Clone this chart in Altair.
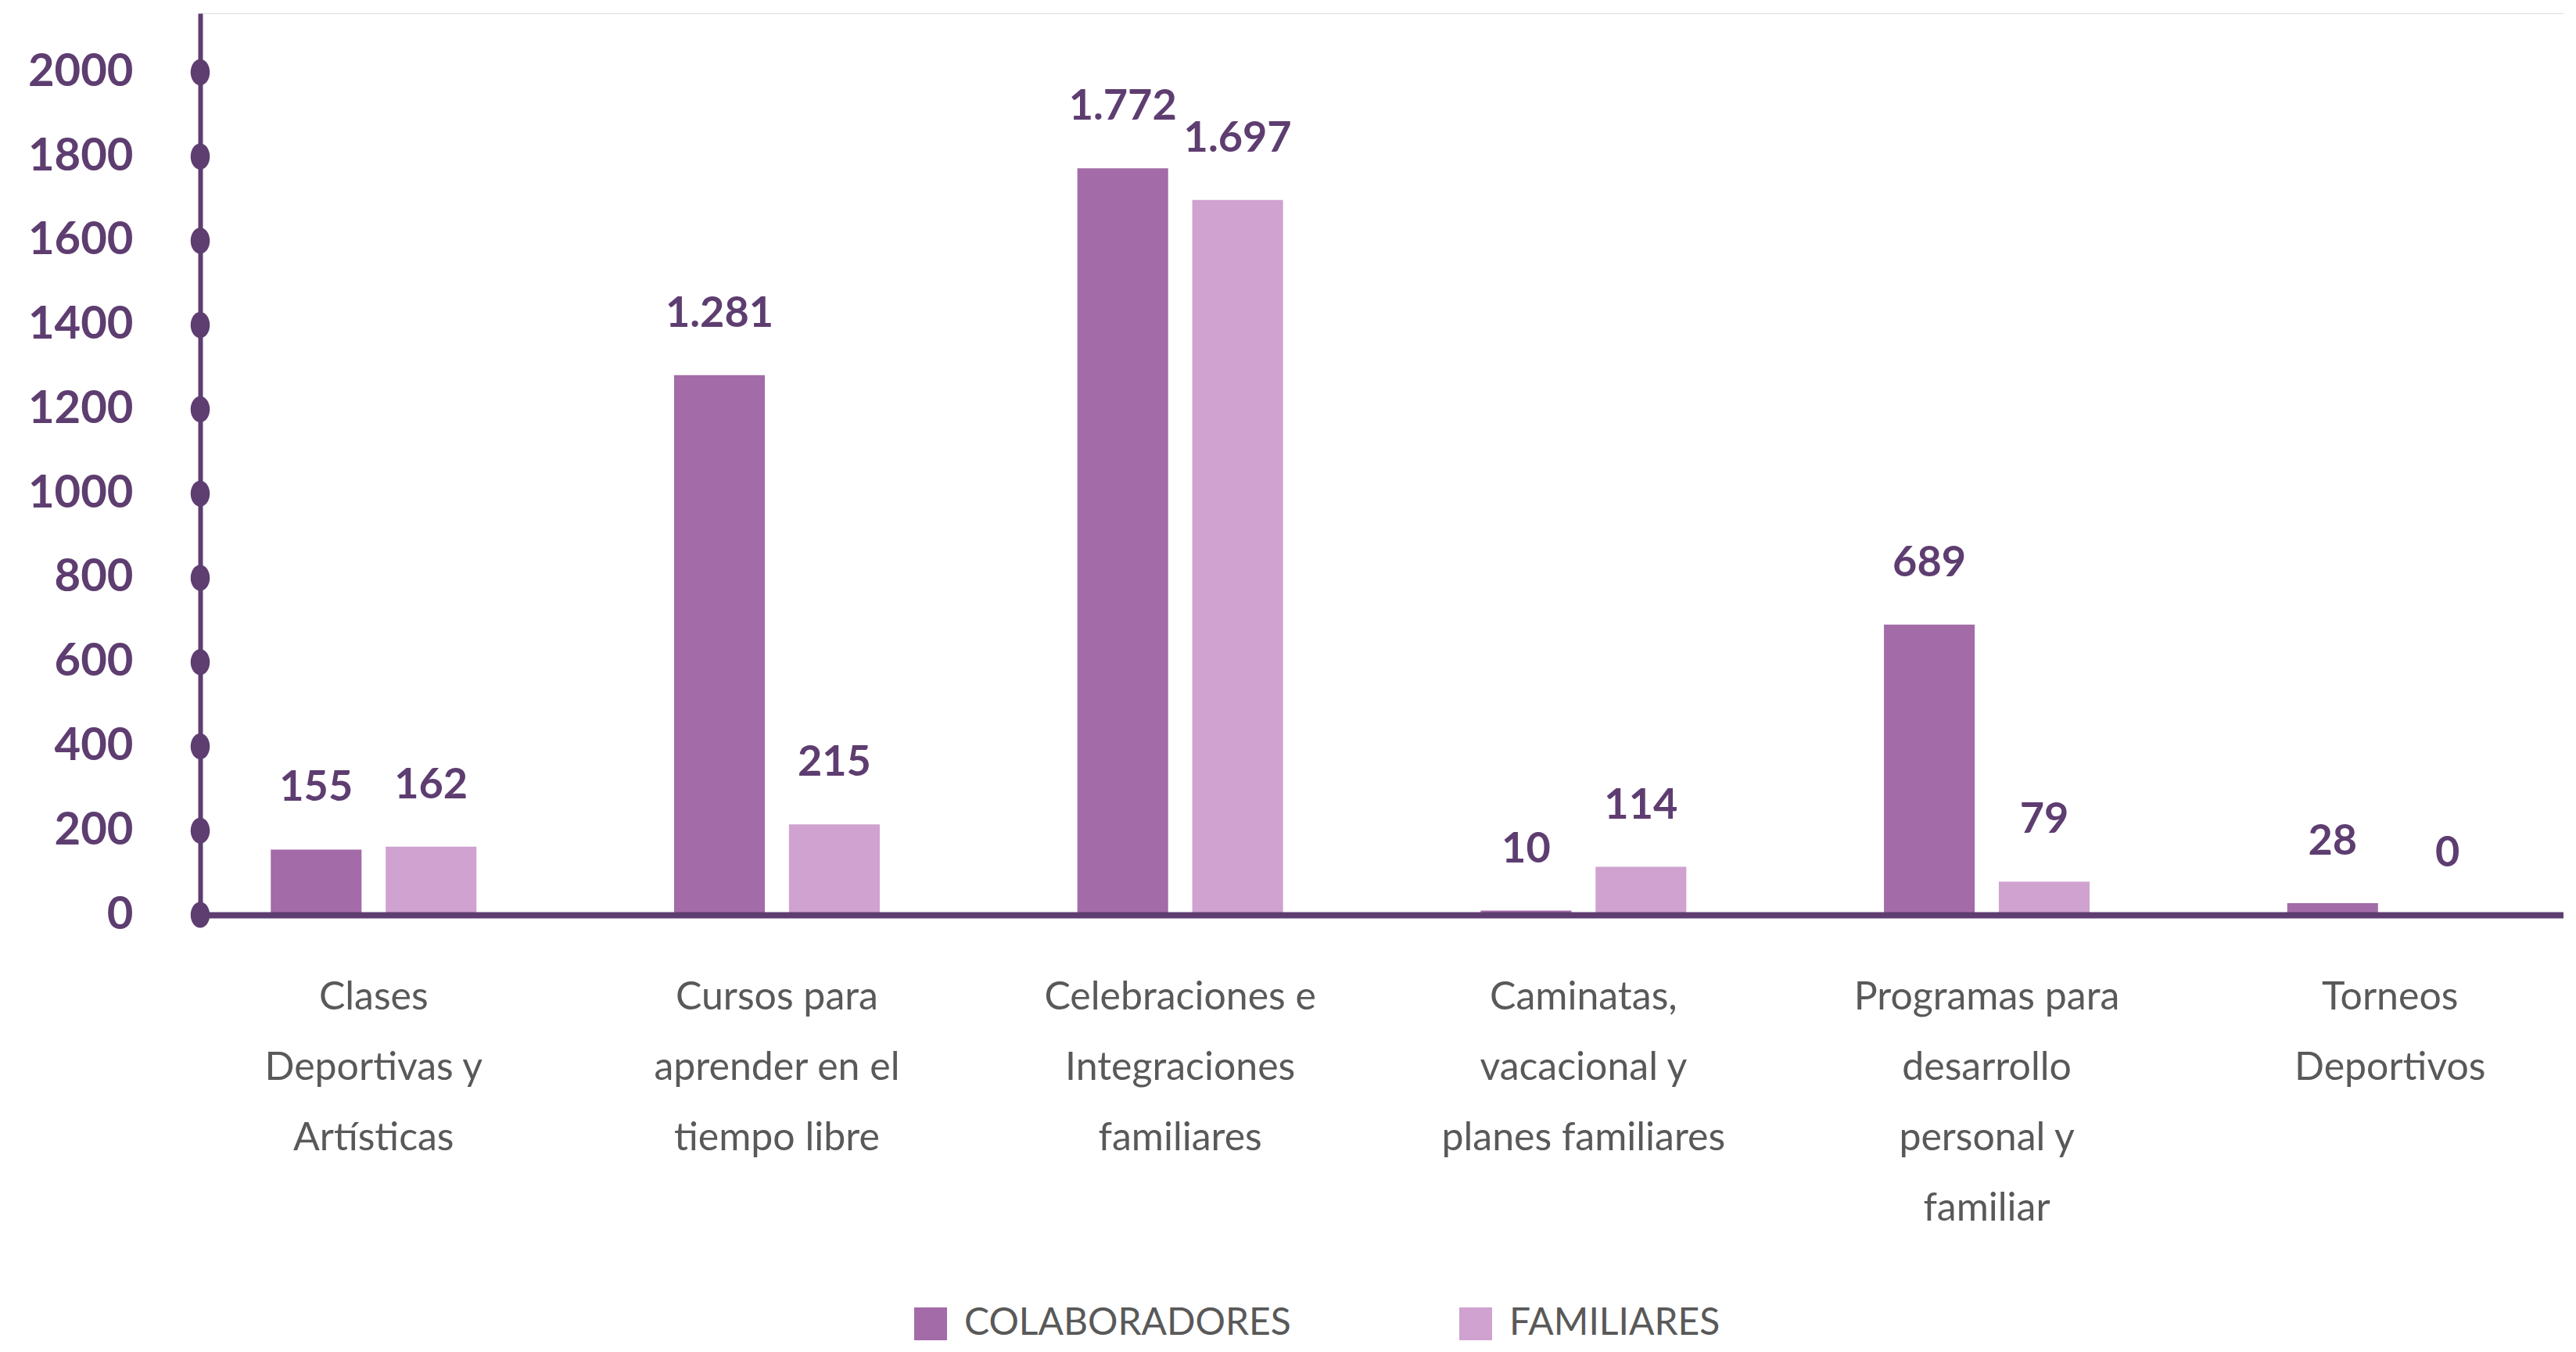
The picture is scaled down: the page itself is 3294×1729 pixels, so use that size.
import altair as alt
import pandas as pd

categories = [
    "Clases|Deportivas y|Artísticas",
    "Cursos para|aprender en el|tiempo libre",
    "Celebraciones e|Integraciones|familiares",
    "Caminatas,|vacacional y|planes familiares",
    "Programas para|desarrollo|personal y|familiar",
    "Torneos|Deportivos",
]
series = ["COLABORADORES", "FAMILIARES"]
colaboradores = [155, 1281, 1772, 10, 689, 28]
familiares = [162, 215, 1697, 114, 79, 0]
y_ticks = [0, 200, 400, 600, 800, 1000, 1200, 1400, 1600, 1800, 2000]

PURPLE = "#5E3D70"
GRAY_TXT = "#595959"
BAR_COLORS = ["#A36BA8", "#CFA2D0"]

rows = []
for c, a, b in zip(categories, colaboradores, familiares):
    for s, v in ((series[0], a), (series[1], b)):
        rows.append({"cat": c, "serie": s, "valor": v,
                     "label": f"{v:,}".replace(",", ".")})
df = pd.DataFrame(rows)

x_enc = alt.X(
    "cat:N", sort=categories,
    scale=alt.Scale(paddingInner=0.49, paddingOuter=0.175),
    axis=alt.Axis(title=None, labelExpr="split(datum.label, '|')", labelAngle=0,
                  labelFont="Lato", labelFontSize=50, labelColor=GRAY_TXT,
                  labelLineHeight=90, labelPadding=80, ticks=False,
                  domainColor=PURPLE, domainWidth=8, labelLimit=0, zindex=1),
)
x_off = alt.XOffset("serie:N", sort=series,
                    scale=alt.Scale(paddingInner=0.21, paddingOuter=0))
y_enc = alt.Y(
    "valor:Q",
    scale=alt.Scale(domain=[0, 2140], nice=False),
    axis=alt.Axis(values=y_ticks, format="d", title=None, grid=False, ticks=False,
                  domainColor=PURPLE, domainWidth=6, labelFont="Lato",
                  labelFontSize=58, labelFontWeight="bold", labelColor=PURPLE,
                  labelPadding=86),
)
color = alt.Color(
    "serie:N", sort=series,
    scale=alt.Scale(domain=series, range=BAR_COLORS),
    legend=alt.Legend(title=None, orient="none", legendX=910, legendY=1652,
                      direction="horizontal", symbolType="square",
                      symbolSize=1764, symbolStrokeWidth=0, labelFont="Lato",
                      labelFontSize=48, labelColor=GRAY_TXT, columnPadding=212,
                      labelOffset=19, labelLimit=0),
)

bars = alt.Chart(df).mark_bar().encode(x=x_enc, xOffset=x_off, y=y_enc, color=color)
text = alt.Chart(df).mark_text(
    font="Lato", fontSize=54, fontWeight="bold", color=PURPLE,
    baseline="middle", dy=-78,
).encode(x=x_enc, xOffset=x_off, y=y_enc, text="label:N")
dots = alt.Chart(pd.DataFrame({"valor": y_ticks})).mark_point(
    filled=True, opacity=1, color=PURPLE, size=1100,
    shape="M0,-1A0.74,1 0 1,1 0,1A0.74,1 0 1,1 0,-1Z",
).encode(x=alt.value(0), y=y_enc)

chart = alt.layer(bars, text, dots).properties(
    width=3022, height=1153,
    padding={"left": 248, "top": 9, "right": 0, "bottom": 551},
    autosize=alt.AutoSizeParams(type="none"),
).configure_view(fill="#EFEFEF", stroke=None).configure(background="white")

chart.save("out.html", embed_options={"renderer": "svg", "actions": False})
